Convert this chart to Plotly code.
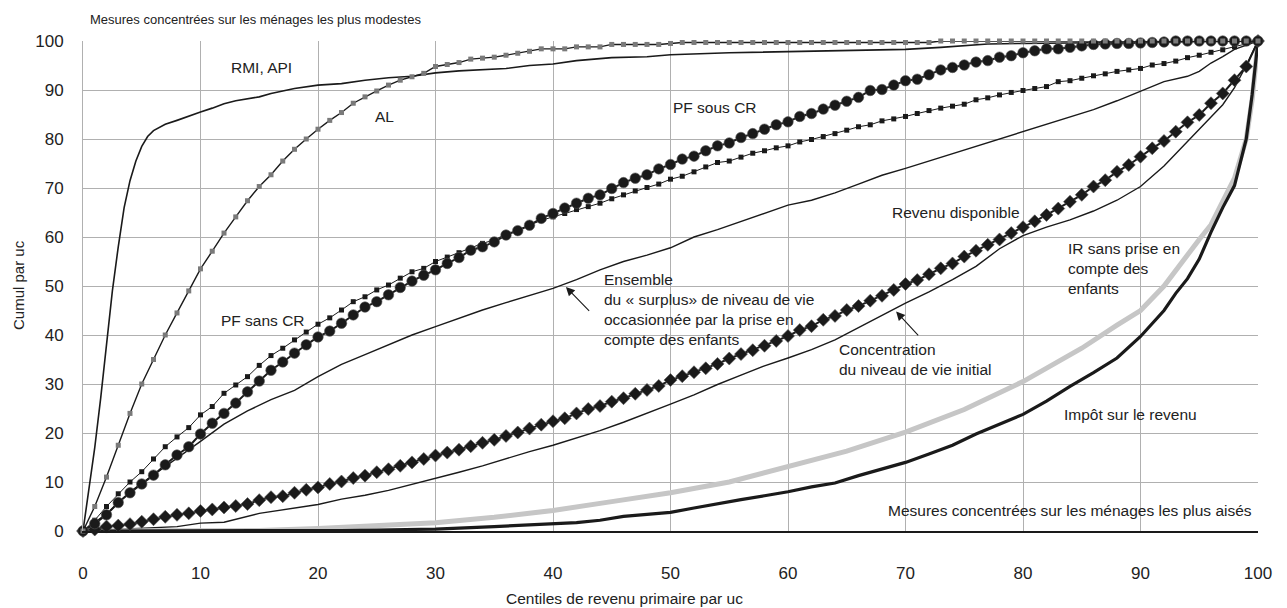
import plotly.graph_objects as go

centiles = list(range(0, 101))

# RMI, API (thin black line)
rmi_x = [0, 0.5, 1, 1.5, 2, 2.5, 3, 3.5, 4, 4.5, 5, 5.5, 6, 7, 8, 9, 10, 11, 12, 13, 14, 15, 16, 18, 20, 22, 24, 26, 28, 30,
         32, 34, 36, 38, 40, 42, 45, 48, 50, 55, 60, 65, 70, 73, 77, 80, 85, 90, 95, 100]
rmi_y = [0, 8, 17, 27, 38, 49, 58, 66, 71.5, 75.5, 78.5, 80.5, 81.7, 83, 83.8, 84.7, 85.5, 86.3, 87.2, 87.8, 88.2, 88.6, 89.3,
         90.3, 91, 91.3, 92, 92.5, 92.8, 93.5, 93.9, 94.1, 94.4, 95, 95.3, 96, 96.6, 96.8, 97.2, 97.6, 97.8, 98, 98.3, 98.7,
         99.4, 99.5, 99.6, 99.7, 99.8, 100]

# AL (grey squares)
al_y = [0, 5, 11, 17.5, 24, 30, 35, 40, 44.5, 49, 53.5, 57.1, 60.8, 64.1, 67.4, 70.3, 72.7, 75.5, 77.9, 80, 82,
        83.8, 85.4, 87.3, 88.6, 89.8, 91, 92, 92.7, 93.4, 94.8, 95.2, 95.6, 96.3, 96.5, 96.7, 97.1, 97.5, 97.9, 98.4, 98.4,
        98.4, 98.8, 98.8, 98.8, 99.3, 99.3, 99.3, 99.3, 99.3, 99.5,
        99.7, 99.7, 99.7, 99.7, 99.7, 99.7, 99.7, 99.7, 99.7, 99.7, 99.7, 99.7, 99.7, 99.7, 99.7, 99.7, 99.7, 99.7, 99.7,
        99.7, 99.7, 99.7,
        100, 100, 100, 100, 100, 100, 100, 100, 100, 100, 100, 100, 100, 100, 100, 100, 100, 100, 100, 100, 100, 100, 100,
        100, 100, 100, 100, 100]

# PF sans CR (small black squares)
pf_sans_y = [0, 2.2, 5, 7.6, 10, 12.1, 14.7, 17.2, 19.2, 21.1, 23.7, 25.4, 28.1, 29.8, 31.5, 33.8, 35.8, 37.3, 39, 40.6,
             42.2, 43.5, 45.1, 46.8, 47.8, 49.2, 50.2, 51.6, 52.9, 53.6, 55, 55.9, 56.8, 57.7, 58.7, 59.4, 60.6, 61.4,
             62.4, 63.4, 64.1, 64.8, 65.6, 66.2, 66.9, 67.8, 68.6, 69.4, 70.1, 70.8, 71.8, 72.4, 73.3, 74.3, 75.2, 75.5,
             76.3, 77.1, 77.6, 78.2, 78.6, 79.4, 79.9, 80.5, 81.1, 81.8, 82.5, 82.9, 83.7, 84.1, 84.6, 85.2, 85.8, 86.3,
             86.7, 87.1, 88, 88.4, 89, 89.5, 89.9, 90.3, 90.7, 91.7, 91.9, 92.4, 92.9, 93.3, 93.8, 94.1, 94.4, 95.1,
             95.4, 95.9, 96.6, 97.1, 97.7, 98.2, 98.8, 99.5, 100]

# PF sous CR (black circles)
pf_sous_y = [0, 1.5, 3.3, 5.8, 7.8, 9.6, 11.4, 13.5, 15.5, 17.2, 19.8, 22, 24, 26.1, 28.4, 30.6, 32.8, 34.5, 36.3, 38,
             39.6, 40.8, 42.4, 44.1, 45.7, 46.8, 48.2, 49.7, 51, 52.2, 53.3, 54.6, 55.8, 57.3, 58, 59, 60.4, 61.3, 62.4,
             63.8, 64.8, 65.9, 66.9, 67.9, 68.6, 69.9, 71.1, 72, 72.7, 73.9, 74.8, 75.9, 76.5, 77.6, 78.6, 79.2, 80.3,
             81.1, 82, 82.9, 83.5, 84.6, 85.2, 86.1, 86.9, 87.7, 88.5, 89.9, 90.1, 91, 91.9, 92.2, 93.1, 94.1, 94.6, 95.1,
             95.7, 96, 96.7, 97, 97.6, 98, 98.4, 98.4, 98.7, 99, 99.3, 99.4, 99.5, 99.5, 99.6, 99.7, 99.8,
             100, 100, 100, 100, 100, 100, 100, 100]

# Revenu disponible (black diamonds)
rev_disp_y = [0, 0.3, 0.9, 1.1, 1.4, 1.9, 2.4, 2.9, 3.3, 3.6, 4.1, 4.4, 4.8, 5.1, 5.5, 6.3, 6.9, 7.1, 7.8, 8.4, 8.9, 9.6,
              10.1, 10.8, 11.3, 12, 12.6, 13.3, 14, 14.7, 15.4, 16, 16.6, 17.3, 18, 18.6, 19.4, 20.1, 20.9, 21.7, 22.4,
              23, 24, 24.9, 25.5, 26.4, 27.1, 28, 28.8, 29.6, 30.8, 31.6, 32.4, 33.2, 34.1, 35.2, 36.1, 36.9, 37.8, 38.8,
              39.8, 41, 41.8, 43.1, 43.9, 45.1, 45.9, 47, 48, 49.2, 50.4, 51.2, 52.4, 53.6, 54.6, 56, 57.2, 58.4, 59.5,
              60.8, 62, 63.2, 64.5, 65.8, 67.2, 68.6, 70.3, 71.6, 73.3, 74.7, 76.4, 78.1, 79.6, 81.5, 83.4, 84.9, 87.3,
              89.3, 92, 94.8, 100]

# Ensemble du « surplus » (thin line)
ens_x = [0, 2, 4, 6, 8, 10, 12, 14, 16, 18, 20, 22, 24, 26, 28, 30, 32, 34, 36, 38, 40, 42, 44, 46, 48, 50, 52, 54, 56,
         58, 60, 62, 64, 66, 68, 70, 72, 74, 76, 78, 80, 82, 84, 86, 88, 90, 92, 94, 95, 96, 97, 98, 99, 100]
ens_y = [0, 3.5, 8, 11.4, 14.8, 18.3, 21.8, 24.5, 26.8, 28.7, 31.5, 34, 36, 38, 40, 41.7, 43.4, 45.1, 46.6, 48, 49.5,
         51.3, 53.3, 55, 56.3, 57.8, 60, 61.5, 63.2, 64.8, 66.5, 67.5, 69, 70.8, 72.6, 74, 75.5, 77, 78.5, 80, 81.5, 83,
         84.5, 86, 87.8, 89.7, 91.7, 92.8, 93.8, 95.5, 96.8, 98.3, 99.2, 100]

# Concentration du niveau de vie initial (thin line)
conc_x = [0, 5, 8, 10, 12, 15, 20, 22, 24, 26, 28, 30, 32, 34, 36, 38, 40, 42, 44, 46, 48, 50, 52, 54, 56, 58, 60, 62,
          64, 66, 68, 70, 72, 74, 76, 78, 80, 82, 84, 86, 88, 90, 92, 94, 95, 96, 97, 98, 99, 100]
conc_y = [0, 0.5, 0.9, 1.6, 1.8, 3.6, 5.4, 6.5, 7.3, 8.3, 9.5, 10.8, 12, 13.3, 14.8, 16.2, 17.5, 19, 20.5, 22.2, 24, 25.9,
          27.8, 29.9, 31.8, 33.7, 35.3, 37, 39, 41.5, 44, 46.5, 48.8, 51.3, 54, 57.6, 60.3, 62, 63.5, 65.3, 67.5, 70.3,
          74.5, 79.6, 82, 84.5, 87, 90.5, 95, 100]

# IR sans prise en compte des enfants (thick light grey)
ir_sans_x = [0, 10, 15, 20, 25, 30, 35, 40, 45, 50, 55, 60, 65, 70, 75, 80, 85, 88, 90, 92, 94, 95, 96, 97, 98, 99, 99.5,
             100]
ir_sans_y = [0, 0, 0.1, 0.5, 1, 1.7, 2.8, 4.2, 6, 7.8, 10, 13.2, 16.3, 20.2, 24.8, 30.5, 37.3, 42, 45, 50, 56.5, 59.5,
             62.5, 67, 72, 80, 88, 100]

# Impôt sur le revenu (thick black)
ir_x = [0, 20, 22, 25, 30, 35, 38, 40, 42, 44, 46, 48, 50, 52, 54, 56, 58, 60, 62, 64, 66, 68, 70, 72, 74, 76, 78, 80, 82,
        84, 86, 88, 90, 92, 93, 94, 95, 96, 97, 98, 99, 99.5, 100]
ir_y = [0, 0, 0.1, 0.2, 0.4, 0.9, 1.2, 1.5, 1.7, 2.2, 3, 3.4, 3.8, 4.7, 5.6, 6.4, 7.2, 8, 9, 9.8, 11.3, 12.7, 14, 15.7,
        17.5, 19.8, 21.8, 23.8, 26.5, 29.5, 32.3, 35.3, 39.7, 45, 48.5, 51.5, 55.5, 61, 66, 70.5, 80, 89, 100]

tick_vals = [0, 10, 20, 30, 40, 50, 60, 70, 80, 90, 100]
tick_text = ["0", "10", "20", "30", "40", "50", "60", "70", "80", "90", "100"]

FONT = "Liberation Sans, Arial, sans-serif"
BLACK = "#1a1a1a"
TXT = "#222222"

fig = go.Figure()

fig.add_trace(go.Scatter(x=rmi_x, y=rmi_y, mode="lines", line=dict(color=BLACK, width=1.6), cliponaxis=False))
fig.add_trace(go.Scatter(x=centiles, y=pf_sans_y, mode="lines+markers", line=dict(color=BLACK, width=1),
                         marker=dict(symbol="square", size=5, color=BLACK), cliponaxis=False))
fig.add_trace(go.Scatter(x=ens_x, y=ens_y, mode="lines", line=dict(color=BLACK, width=1.4), cliponaxis=False))
fig.add_trace(go.Scatter(x=conc_x, y=conc_y, mode="lines", line=dict(color=BLACK, width=1.4), cliponaxis=False))
fig.add_trace(go.Scatter(x=ir_sans_x, y=ir_sans_y, mode="lines", line=dict(color="#c6c6c6", width=5), cliponaxis=False))
fig.add_trace(go.Scatter(x=ir_x, y=ir_y, mode="lines", line=dict(color=BLACK, width=3.2), cliponaxis=False))
fig.add_trace(go.Scatter(x=centiles, y=rev_disp_y, mode="lines+markers", line=dict(color=BLACK, width=2),
                         marker=dict(symbol="diamond", size=10, color=BLACK, line=dict(color="#555555", width=0.6)),
                         cliponaxis=False))
fig.add_trace(go.Scatter(x=centiles, y=pf_sous_y, mode="lines+markers", line=dict(color=BLACK, width=2),
                         marker=dict(symbol="circle", size=10.5, color=BLACK, line=dict(color="#555555", width=0.6)),
                         cliponaxis=False))
fig.add_trace(go.Scatter(x=centiles, y=al_y, mode="lines+markers", line=dict(color=BLACK, width=1.4),
                         marker=dict(symbol="square", size=5, color="#7a7a7a"), cliponaxis=False))

tf = dict(family=FONT, size=15.5, color=TXT)
notes = [
    dict(x=15.2, y=94.5, text="RMI, API", xanchor="center"),
    dict(x=25.7, y=84.6, text="AL", xanchor="center"),
    dict(x=53.8, y=86.4, text="PF sous CR", xanchor="center"),
    dict(x=15.3, y=43.0, text="PF sans CR", xanchor="center"),
    dict(x=74.3, y=65.0, text="Revenu disponible", xanchor="center"),
    dict(x=83.7, y=53.5, text="IR sans prise en<br>compte des<br>enfants", xanchor="left", align="left"),
    dict(x=83.3, y=23.8, text="Impôt sur le revenu", xanchor="left"),
    dict(x=68.3, y=4.2, text="Mesures concentrées sur les ménages les plus aisés", xanchor="left"),
]
annotations = []
for n in notes:
    a = dict(xref="x", yref="y", showarrow=False, font=tf, yanchor="middle", align=n.get("align", "center"))
    a.update(n)
    annotations.append(a)

annotations.append(dict(xref="x", yref="y", x=44.2, y=45.2, xanchor="left", yanchor="middle", align="left",
                        showarrow=False, font=tf,
                        text="Ensemble<br>du « surplus» de niveau de vie<br>occasionnée par la prise en<br>compte des enfants"))
annotations.append(dict(xref="x", yref="y", x=64.2, y=35.0, xanchor="left", yanchor="middle", align="left",
                        showarrow=False, font=tf, text="Concentration<br>du niveau de vie initial"))
# arrows
annotations.append(dict(xref="x", yref="y", axref="x", ayref="y", x=41.1, y=49.8, ax=43.2, ay=44.6, text="",
                        showarrow=True, arrowhead=2, arrowsize=1.6, arrowwidth=1.1, arrowcolor=BLACK))
annotations.append(dict(xref="x", yref="y", axref="x", ayref="y", x=69.2, y=44.8, ax=71.2, ay=39.6, text="",
                        showarrow=True, arrowhead=2, arrowsize=1.6, arrowwidth=1.1, arrowcolor=BLACK))
# top caption and axis titles
annotations.append(dict(xref="paper", yref="paper", x=0.0043, y=1.0, yshift=22, xanchor="left", yanchor="middle",
                        showarrow=False, font=dict(family=FONT, size=13, color=TXT),
                        text="Mesures concentrées sur les ménages les plus modestes"))
annotations.append(dict(xref="paper", yref="paper", x=0.461, y=-0.137, xanchor="center", yanchor="middle",
                        showarrow=False, font=dict(family=FONT, size=15.5, color=TXT),
                        text="Centiles de revenu primaire par uc"))
annotations.append(dict(xref="paper", yref="paper", x=-0.0553, y=0.502, xanchor="center", yanchor="middle",
                        textangle=-90, showarrow=False, font=dict(family=FONT, size=15, color=TXT),
                        text="Cumul par uc"))

# the page adds an 8px body margin, so the figure is shrunk by 8px and margins shifted accordingly
fig.update_layout(
    width=1279, height=600,
    margin=dict(l=75, r=29, t=33, b=77, autoexpand=False),
    paper_bgcolor="white", plot_bgcolor="white",
    showlegend=False,
    annotations=annotations,
    font=dict(family=FONT, color=TXT),
    xaxis=dict(range=[0, 100], tickvals=tick_vals, ticktext=tick_text, showgrid=True, gridcolor="#b0b0b0",
               gridwidth=1, zeroline=False, showline=True, linecolor=BLACK, linewidth=1.5, automargin=False,
               tickfont=dict(family=FONT, size=17, color=TXT), ticks="", ticklabelstandoff=26),
    yaxis=dict(range=[0, 100], tickvals=tick_vals, ticktext=tick_text, showgrid=True, gridcolor="#b0b0b0",
               gridwidth=1, zeroline=False, showline=True, linecolor="#b0b0b0", linewidth=1, automargin=False,
               tickfont=dict(family=FONT, size=17, color=TXT), ticks="", ticklabelstandoff=15),
)

fig.write_html("out.html")
